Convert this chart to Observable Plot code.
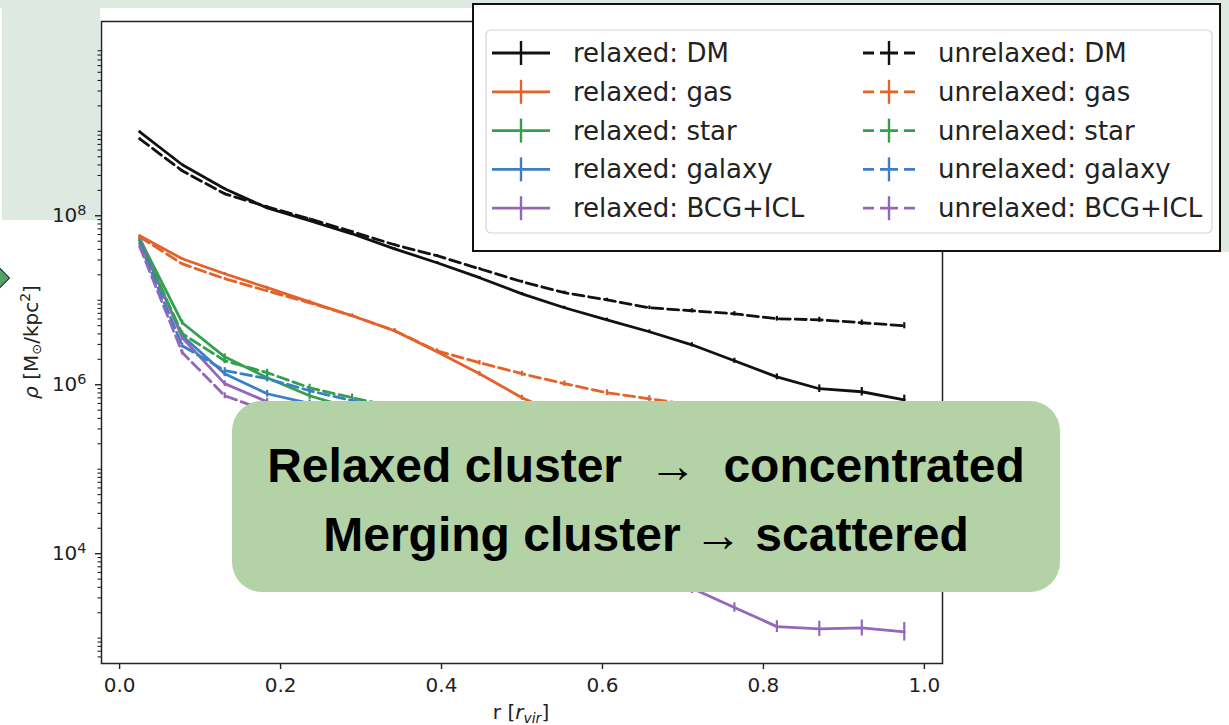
<!DOCTYPE html>
<html>
<head>
<meta charset="utf-8">
<script src="https://cdn.jsdelivr.net/npm/d3@7"></script>
<script src="https://cdn.jsdelivr.net/npm/@observablehq/plot@0.6"></script>
<style>
  html,body{margin:0;padding:0;background:#fff;}
  #page{position:relative;width:1229px;height:725px;overflow:hidden;background:#fff;}
  .bg{position:absolute;background:#dde9e1;}
  #chart{position:absolute;left:0;top:0;}
  #overlay{position:absolute;left:0;top:0;}
  #callout{position:absolute;left:232px;top:401px;width:828px;height:191px;background:#b3d3a6;border-radius:30px;}
  .cl{position:absolute;left:0;width:100%;text-align:center;font-family:"Liberation Sans",Arial,sans-serif;font-weight:bold;font-size:48px;line-height:48px;color:#000;white-space:pre;}
  #diamond{position:absolute;left:-14.5px;top:267.5px;width:18px;height:18px;background:#56a06a;border:1.5px solid #1f3d27;transform:rotate(45deg);}
</style>
</head>
<body>
<div id="page">
  <div class="bg" style="left:0;top:0;width:1229px;height:8px"></div>
  <div class="bg" style="left:2px;top:8px;width:98px;height:212px"></div>
  <div class="bg" style="left:1220px;top:0;width:9px;height:252px"></div>
  <div id="chart"></div>
  <svg id="overlay" width="1229" height="725"></svg>
  <div id="callout"><div class="cl" style="top:41px">Relaxed cluster  →  concentrated</div><div class="cl" style="top:110px">Merging cluster → scattered</div></div>
  <div id="diamond"></div>
</div>
<script>
// ---------- data ----------
const radius = [0.025, 0.0778, 0.1306, 0.1833, 0.2361, 0.2889, 0.3417, 0.3944, 0.4472, 0.5,
                0.5528, 0.6056, 0.6583, 0.7111, 0.7639, 0.8167, 0.8694, 0.9222, 0.975];

const components = ["DM", "gas", "star", "galaxy", "BCG+ICL"];
const colors = ["#111111", "#e3632b", "#33a04e", "#3a80c2", "#9467bd"];
const states = ["relaxed", "unrelaxed"];

const relaxedDM      = [9.86e8, 4.02e8, 2.09e8, 1.24e8, 8.73e7, 6.12e7, 4.06e7, 2.78e7, 1.85e7, 1.19e7, 8.15e6, 5.87e6, 4.24e6, 2.97e6, 1.92e6, 1.24e6, 8.97e5, 8.26e5, 6.64e5];
const unrelaxedDM    = [8.15e8, 3.41e8, 1.82e8, 1.28e8, 9.21e7, 6.48e7, 4.54e7, 3.37e7, 2.36e7, 1.66e7, 1.23e7, 1.01e7, 8.15e6, 7.51e6, 6.92e6, 6.04e6, 5.87e6, 5.42e6, 4.99e6];
const relaxedGas     = [5.80e7, 3.10e7, 2.06e7, 1.41e7, 9.59e6, 6.56e6, 4.36e6, 2.46e6, 1.35e6, 7.01e5, 4.2e5, 2.6e5, 1.8e5, 1.26e5, 9.3e4, 7.1e4, 5.4e4, 4.2e4, 3.3e4];
const unrelaxedGas   = [5.64e7, 2.70e7, 1.80e7, 1.29e7, 9.33e6, 6.56e6, 4.36e6, 2.52e6, 1.82e6, 1.35e6, 1.03e6, 8.04e5, 6.82e5, 5.75e5, 4.9e5, 4.17e5, 3.55e5, 3.0e5, 2.57e5];
const relaxedStar    = [5.35e7, 5.42e6, 2.14e6, 1.21e6, 7.41e5, 5.25e5, 3.98e5, 3.02e5, 2.34e5, 1.86e5, 1.48e5, 1.17e5, 9.3e4, 7.4e4, 5.9e4, 4.7e4, 3.7e4, 2.95e4, 2.34e4];
const unrelaxedStar  = [5.06e7, 4.02e6, 1.92e6, 1.39e6, 9.2e5, 7.01e5, 5.5e5, 4.37e5, 3.55e5, 2.95e5, 2.45e5, 2.04e5, 1.7e5, 1.41e5, 1.17e5, 9.8e4, 8.1e4, 6.8e4, 5.6e4];
const relaxedGalaxy  = [5.06e7, 3.80e6, 1.35e6, 7.82e5, 6.0e5, 4.8e5, 3.8e5, 3.1e5, 2.5e5, 2.04e5, 1.66e5, 1.35e5, 1.1e5, 8.9e4, 7.2e4, 5.9e4, 4.8e4, 3.9e4, 3.2e4];
const unrelaxedGalaxy= [4.67e7, 2.90e6, 1.47e6, 1.18e6, 8.5e5, 6.47e5, 5.25e5, 4.37e5, 3.63e5, 3.02e5, 2.51e5, 2.09e5, 1.74e5, 1.45e5, 1.2e5, 1.0e5, 8.3e4, 6.9e4, 5.75e4];
const relaxedBCG     = [5.49e7, 3.60e6, 1.03e6, 6.3e5, 4.0e5, 2.3e5, 1.26e5, 7.6e4, 4.6e4, 2.9e4, 1.74e4, 1.05e4, 6.3e3, 3.9e3, 2.31e3, 1.37e3, 1.29e3, 1.32e3, 1.19e3];
const unrelaxedBCG   = [4.30e7, 2.41e6, 7.41e5, 4.9e5, 3.4e5, 2.5e5, 1.9e5, 1.45e5, 1.1e5, 8.5e4, 6.6e4, 5.1e4, 4.0e4, 3.1e4, 2.4e4, 1.9e4, 1.5e4, 1.2e4, 9.5e3];

// half-width of the error bars, in dex
const errRelaxedDM   = [0.01, 0.01, 0.01, 0.01, 0.01, 0.012, 0.012, 0.014, 0.015, 0.016, 0.018, 0.02, 0.022, 0.025, 0.03, 0.035, 0.045, 0.05, 0.055];
const errUnrelaxedDM = [0.01, 0.01, 0.01, 0.01, 0.01, 0.012, 0.012, 0.014, 0.015, 0.016, 0.018, 0.02, 0.022, 0.024, 0.026, 0.028, 0.03, 0.032, 0.036];
const errGas         = [0.01, 0.012, 0.014, 0.016, 0.018, 0.02, 0.022, 0.025, 0.028, 0.03, 0.032, 0.035, 0.038, 0.04, 0.045, 0.05, 0.055, 0.06, 0.065];
const errStellar     = [0.01, 0.03, 0.035, 0.04, 0.042, 0.045, 0.048, 0.05, 0.055, 0.06, 0.065, 0.07, 0.075, 0.08, 0.085, 0.09, 0.095, 0.1, 0.105];
const errRelaxedBCG  = [0.01, 0.03, 0.035, 0.04, 0.042, 0.045, 0.048, 0.05, 0.052, 0.054, 0.056, 0.058, 0.06, 0.062, 0.055, 0.07, 0.09, 0.095, 0.11];

const xTicks = [0.0, 0.2, 0.4, 0.6, 0.8, 1.0];
const yMajorTicks = [1e4, 1e6, 1e8];

const series = [
  {state: "relaxed",   comp: 0, values: relaxedDM,       err: errRelaxedDM},
  {state: "unrelaxed", comp: 0, values: unrelaxedDM,     err: errUnrelaxedDM},
  {state: "relaxed",   comp: 1, values: relaxedGas,      err: errGas},
  {state: "unrelaxed", comp: 1, values: unrelaxedGas,    err: errGas},
  {state: "relaxed",   comp: 2, values: relaxedStar,     err: errStellar},
  {state: "unrelaxed", comp: 2, values: unrelaxedStar,   err: errStellar},
  {state: "relaxed",   comp: 3, values: relaxedGalaxy,   err: errStellar},
  {state: "unrelaxed", comp: 3, values: unrelaxedGalaxy, err: errStellar},
  {state: "relaxed",   comp: 4, values: relaxedBCG,      err: errRelaxedBCG},
  {state: "unrelaxed", comp: 4, values: unrelaxedBCG,    err: errStellar}
];

const rows = series.flatMap(s => s.values.map((v, i) => ({
  key: s.state + ": " + components[s.comp],
  state: s.state,
  color: colors[s.comp],
  r: radius[i],
  rho: v,
  lo: v / Math.pow(10, s.err[i]),
  hi: v * Math.pow(10, s.err[i])
})));

// minor log ticks
const yMinorTicks = [];
for (let n = 2; n <= 10; n++) for (let k = 1; k <= 9; k++) {
  const v = k * Math.pow(10, n);
  if (k === 1 && n % 2 === 0) continue;
  if (v > Math.pow(10, 2.7) && v < Math.pow(10, 10.3)) yMinorTicks.push(v);
}

const DASH = "11,5";
const LW = 2.8;

const chart = Plot.plot({
  width: 960,
  height: 725,
  marginLeft: 101,
  marginRight: 18,
  marginTop: 21,
  marginBottom: 62,
  x: {domain: [-0.0225, 1.0225]},
  y: {type: "log", domain: [Math.pow(10, 2.7), Math.pow(10, 10.3)]},
  color: {type: "identity"},
  style: {fontFamily: "DejaVu Sans", fontSize: "20px", color: "#222", background: "transparent", overflow: "visible"},
  marks: [
    Plot.ruleX(rows, {x: "r", y1: "lo", y2: "hi", stroke: "color", strokeWidth: 2.2}),
    Plot.line(rows.filter(d => d.state === "relaxed"), {x: "r", y: "rho", z: "key", stroke: "color", strokeWidth: LW}),
    Plot.line(rows.filter(d => d.state === "unrelaxed"), {x: "r", y: "rho", z: "key", stroke: "color", strokeWidth: LW, strokeDasharray: DASH}),
    Plot.axisX(xTicks, {tickSize: 6, tickPadding: 8, strokeWidth: 1.4, tickFormat: d3.format(".1f"), label: null}),
    Plot.axisY(yMinorTicks, {tickSize: 3.5, strokeWidth: 1.1, tickFormat: () => "", label: null}),
    Plot.axisY(yMajorTicks, {tickSize: 6, tickPadding: 9, strokeWidth: 1.4, tickFormat: d => "10^" + Math.round(Math.log10(d)), label: null}),
    Plot.frame({stroke: "#222", strokeWidth: 1.5})
  ]
});
document.getElementById("chart").appendChild(chart);

// superscripts in y tick labels
d3.select(chart).selectAll("text").each(function() {
  const t = this.textContent;
  if (/^10\^\d+$/.test(t)) {
    const exp = t.split("^")[1];
    const el = d3.select(this);
    el.text(null);
    el.append("tspan").text("10");
    el.append("tspan").attr("dy", "-0.5em").attr("font-size", "0.72em").text(exp);
  }
});

// ---------- overlay: axis labels and legend ----------
const ov = d3.select("#overlay");
const ff = "DejaVu Sans";

// y label
const yl = ov.append("text")
  .attr("transform", "translate(38,342) rotate(-90)")
  .attr("text-anchor", "middle")
  .attr("font-family", ff).attr("font-size", 20).attr("fill", "#222");
yl.append("tspan").attr("font-style", "italic").text("ρ");
yl.append("tspan").text(" [M");
yl.append("tspan").attr("font-size", 13).attr("dy", 3).text("⊙");
yl.append("tspan").attr("dy", -3).text("/kpc");
yl.append("tspan").attr("font-size", 14).attr("dy", -8).text("2");
yl.append("tspan").attr("dy", 8).text("]");

// x label
const xl = ov.append("text")
  .attr("x", 521).attr("y", 719)
  .attr("text-anchor", "middle")
  .attr("font-family", ff).attr("font-size", 20).attr("fill", "#222");
xl.append("tspan").text("r [");
xl.append("tspan").attr("font-style", "italic").text("r");
xl.append("tspan").attr("font-style", "italic").attr("font-size", 14).attr("dy", 4).text("vir");
xl.append("tspan").attr("dy", -4).text("]");

// legend
ov.append("rect").attr("x", 473).attr("y", 4).attr("width", 747).attr("height", 247)
  .attr("fill", "#fff").attr("stroke", "#111").attr("stroke-width", 2);
ov.append("rect").attr("x", 486).attr("y", 30).attr("width", 726).attr("height", 203).attr("rx", 5)
  .attr("fill", "#fff").attr("stroke", "#d6d6d6").attr("stroke-width", 1.2);

const colX = [{x1: 492, x2: 550, bar: 521, text: 573}, {x1: 863, x2: 915, bar: 889, text: 938}];
states.forEach((st, c) => {
  components.forEach((comp, i) => {
    const cy = 53 + 38.8 * i;
    const col = colX[c];
    const ln = ov.append("line").attr("x1", col.x1).attr("x2", col.x2).attr("y1", cy).attr("y2", cy)
      .attr("stroke", colors[i]).attr("stroke-width", LW);
    if (st === "unrelaxed") ln.attr("stroke-dasharray", "11,6,18,6,11");
    ov.append("line").attr("x1", col.bar).attr("x2", col.bar).attr("y1", cy - 12).attr("y2", cy + 12)
      .attr("stroke", colors[i]).attr("stroke-width", 2.4);
    ov.append("text").attr("x", col.text).attr("y", cy + 9)
      .attr("font-family", ff).attr("font-size", 26).attr("fill", "#222")
      .text(st + ": " + comp);
  });
});
</script>
</body>
</html>
